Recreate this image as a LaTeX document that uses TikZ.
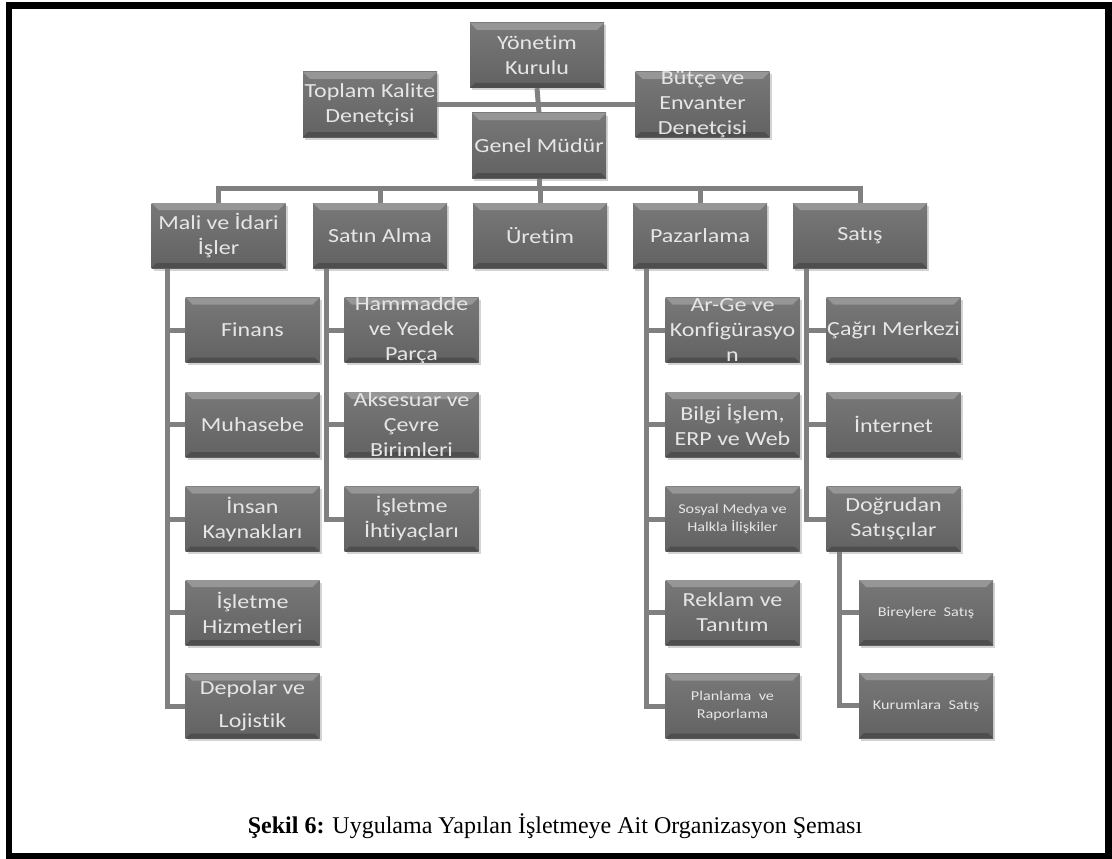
\documentclass[tikz,border=0pt]{standalone}
\usepackage{fontspec}
\setmainfont{Liberation Serif}
\newfontfamily\boxfont[FakeStretch=1.2,Ligatures=NoCommon]{Carlito}
\usetikzlibrary{shadows}
\pgfdeclarelayer{background}
\pgfsetlayers{background,main}

\definecolor{boxtop}{RGB}{120,120,120}
\definecolor{boxbot}{RGB}{98,98,98}
\definecolor{bevlight}{RGB}{150,150,150}
\definecolor{bevdark}{RGB}{78,78,78}
\definecolor{boxtext}{RGB}{230,230,230}
\definecolor{linkgray}{RGB}{128,128,128}

\tikzset{
  orgbox/.style={rectangle, minimum width=134pt, minimum height=65pt, inner sep=0pt,
    top color=boxtop, bottom color=boxbot,
    drop shadow={shadow xshift=2pt, shadow yshift=-2.5pt, opacity=0.35},
    path picture={
      \fill[bevlight] (path picture bounding box.north west) -- (path picture bounding box.north east)
        -- ([shift={(-7pt,-7pt)}]path picture bounding box.north east)
        -- ([shift={(7pt,-7pt)}]path picture bounding box.north west) -- cycle;
      \fill[bevdark] (path picture bounding box.south west) -- (path picture bounding box.south east)
        -- ([shift={(-5pt,5pt)}]path picture bounding box.south east)
        -- ([shift={(5pt,5pt)}]path picture bounding box.south west) -- cycle;
    }},
  boxtxt/.style={inner sep=0pt, align=center, text=boxtext,
    font=\boxfont\fontsize{20}{25}\selectfont},
  smalltxt/.style={font=\boxfont\fontsize{13.5}{18}\selectfont},
  link/.style={draw=linkgray, line width=5pt},
  frame/.style={draw=black, line width=6.5pt}
}

% box with its caption text placed on top (the box keeps its size)
\newcommand\orgunit[4][]{%
  \node[orgbox] (#2) at (#3) {};
  \node[boxtxt,#1] (#2-t) at (#2.center) {#4};}

\begin{document}
\begin{tikzpicture}[x=1pt,y=-1pt]
\useasboundingbox (0,0) rectangle (1112,859);
\draw[frame] (9,5.5) rectangle (1108.5,856);

% top management
\orgunit{yk}{537,55.5}{Yönetim\\Kurulu}
\orgunit{tk}{370,104.5}{Toplam Kalite\\Denetçisi}
\orgunit{bv}{702.5,104.5}{Bütçe ve\\Envanter\\Denetçisi}
\orgunit{gm}{539,145.5}{Genel Müdür}

% departments
\orgunit{mali}{218.5,235.5}{Mali ve İdari\\İşler}
\orgunit{satin}{380,235.5}{Satın Alma}
\orgunit{uretim}{540,235.5}{Üretim}
\orgunit{pazar}{700,235.5}{Pazarlama}
\orgunit{satis}{860,235.5}{Satış}

% Mali ve İdari İşler
\orgunit{finans}{252.5,330}{Finans}
\orgunit{muhasebe}{252.5,424.5}{Muhasebe}
\orgunit{ik}{252.5,519}{İnsan\\Kaynakları}
\orgunit{ih}{252.5,612.5}{İşletme\\Hizmetleri}
\orgunit[font=\boxfont\fontsize{20}{33}\selectfont]{depo}{252.5,706}{Depolar ve\\Lojistik}

% Satın Alma
\orgunit{hammadde}{411.5,330}{Hammadde\\ve Yedek\\Parça}
\orgunit{aksesuar}{411.5,424.5}{Aksesuar ve\\Çevre\\Birimleri}
\orgunit{ihtiyac}{411.5,519}{İşletme\\İhtiyaçları}

% Pazarlama
\orgunit{arge}{732.5,330}{Ar-Ge ve\\Konfigürasyo\\n}
\orgunit{bilgi}{732.5,424.5}{Bilgi İşlem,\\ERP ve Web}
\orgunit[smalltxt]{sosyal}{732.5,519}{Sosyal Medya ve\\Halkla İlişkiler}
\orgunit{reklam}{732.5,612.5}{Reklam ve\\Tanıtım}
\orgunit[smalltxt]{plan}{732.5,706}{Planlama~ ve\\Raporlama}

% Satış
\orgunit{cagri}{893.5,330}{Çağrı Merkezi}
\orgunit{internet}{893.5,424.5}{İnternet}
\orgunit{dogrudan}{893.5,519}{Doğrudan\\Satışçılar}
\orgunit[smalltxt]{bireysel}{926,612.5}{Bireylere~ Satış}
\orgunit[smalltxt]{kurum}{926,705.5}{Kurumlara~ Satış}

% caption
\node[font=\fontsize{24}{28}\selectfont] (cap) at (555,826)
  {\textbf{Şekil 6:} Uygulama Yapılan İşletmeye Ait Organizasyon Şeması};

% connectors
\begin{pgfonlayer}{background}
  \draw[link] (yk.south) -- (gm.north);
  \draw[link] (tk.east) -- (bv.west);

  \coordinate (bar) at (540,188);
  \draw[link] (mali.north) |- (bar) -| (satis.north);
  \draw[link] (gm.south) -- (gm.south |- bar);
  \draw[link] (satin.north) -- (satin.north |- bar);
  \draw[link] (uretim.north) -- (uretim.north |- bar);
  \draw[link] (pazar.north) -- (pazar.north |- bar);

  \coordinate (mt) at ([xshift=16pt]mali.south west);
  \draw[link] (mt) |- (depo.west);
  \foreach \c in {finans,muhasebe,ik,ih} \draw[link] (\c.west) -- (\c.west -| mt);

  \coordinate (st) at ([xshift=14pt]satin.south west);
  \draw[link] (st) |- (ihtiyac.west);
  \foreach \c in {hammadde,aksesuar} \draw[link] (\c.west) -- (\c.west -| st);

  \coordinate (pt) at ([xshift=14pt]pazar.south west);
  \draw[link] (pt) |- (plan.west);
  \foreach \c in {arge,bilgi,sosyal,reklam} \draw[link] (\c.west) -- (\c.west -| pt);

  \coordinate (at) at ([xshift=14pt]satis.south west);
  \draw[link] (at) |- (dogrudan.west);
  \foreach \c in {cagri,internet} \draw[link] (\c.west) -- (\c.west -| at);

  \coordinate (dt) at ([xshift=13pt]dogrudan.south west);
  \draw[link] (dt) |- (kurum.west);
  \draw[link] (bireysel.west) -- (bireysel.west -| dt);
\end{pgfonlayer}
\end{tikzpicture}
\end{document}
